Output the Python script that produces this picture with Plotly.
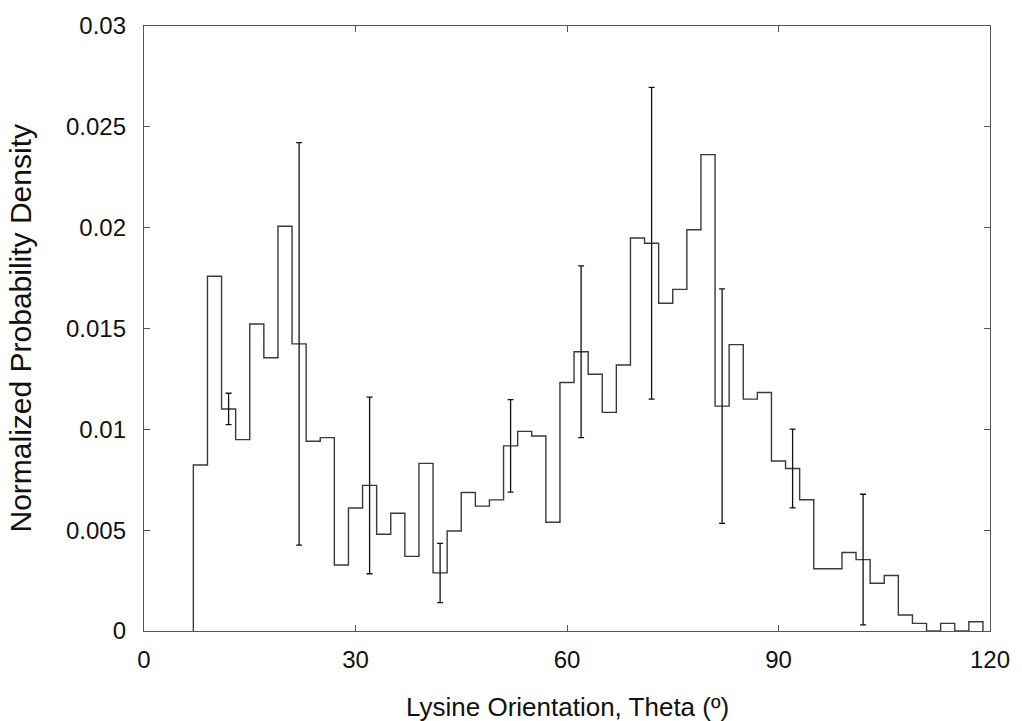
import plotly.graph_objects as go

# Bin centres (degrees) and normalized probability density per bin (bin width 2)
bin_centers = [8, 10, 12, 14, 16, 18, 20, 22, 24, 26, 28, 30, 32, 34, 36, 38, 40,
               42, 44, 46, 48, 50, 52, 54, 56, 58, 60, 62, 64, 66, 68, 70, 72, 74,
               76, 78, 80, 82, 84, 86, 88, 90, 92, 94, 96, 98, 100, 102, 104, 106,
               108, 110, 112, 114, 116, 118]
density = [0.00823, 0.01759, 0.01101, 0.00949, 0.01522, 0.01355, 0.02007, 0.01424,
           0.00941, 0.00959, 0.00327, 0.00610, 0.00722, 0.00480, 0.00584, 0.00370,
           0.00831, 0.00288, 0.00496, 0.00687, 0.00619, 0.00650, 0.00918, 0.00990,
           0.00967, 0.00539, 0.01232, 0.01385, 0.01273, 0.01084, 0.01319, 0.01949,
           0.01923, 0.01625, 0.01694, 0.01990, 0.02362, 0.01115, 0.01420, 0.01150,
           0.01183, 0.00843, 0.00806, 0.00651, 0.00309, 0.00309, 0.00389, 0.00354,
           0.00237, 0.00275, 0.00079, 0.00038, 0.0, 0.00038, 0.0, 0.00046]
bin_width = 2

# Error bars (symmetric half-widths) at selected bins
err_x = [12, 22, 32, 42, 52, 62, 72, 82, 92, 102]
err_half = [0.00078, 0.00998, 0.00438, 0.00147, 0.00229, 0.00426, 0.00773,
            0.00581, 0.00195, 0.00324]

x_ticks = [0, 30, 60, 90, 120]
y_ticks = [0, 0.005, 0.01, 0.015, 0.02, 0.025, 0.03]
y_tick_labels = ["0", "0.005", "0.01", "0.015", "0.02", "0.025", "0.03"]

# Build step outline from bins
left_edges = [c - bin_width / 2 for c in bin_centers]
right_end = bin_centers[-1] + bin_width / 2
step_x = [left_edges[0]] + left_edges + [right_end, right_end]
step_y = [0] + density + [density[-1], 0]

err_y = [density[bin_centers.index(x)] for x in err_x]

FONT = "Liberation Sans, Arial, sans-serif"

fig = go.Figure()
fig.add_trace(go.Scatter(
    x=step_x, y=step_y, mode="lines", line_shape="hv",
    line=dict(color="#3a3a3a", width=1.4), hoverinfo="skip", showlegend=False))
fig.add_trace(go.Scatter(
    x=err_x, y=err_y, mode="markers", marker=dict(size=1, color="rgba(0,0,0,0)"),
    error_y=dict(type="data", array=err_half, visible=True, color="#111",
                 thickness=1.3, width=3),
    showlegend=False, hoverinfo="skip"))

fig.update_layout(
    width=1022, height=721,
    margin=dict(l=144, r=28, t=20, b=90),
    paper_bgcolor="white", plot_bgcolor="white",
    font=dict(family=FONT, size=24, color="#111"),
    showlegend=False,
    xaxis=dict(range=[0, 120], tickvals=x_ticks, ticks="inside", ticklen=6,
               tickcolor="#555", showline=True, linecolor="#555", linewidth=1.3,
               mirror="ticks", showgrid=False, zeroline=False,
               ticklabelstandoff=7, tickfont=dict(family=FONT, size=24)),
    yaxis=dict(range=[0, 0.03], tickvals=y_ticks, ticktext=y_tick_labels,
               ticks="inside", ticklen=6, tickcolor="#555", showline=True,
               linecolor="#555", linewidth=1.3, mirror="ticks", showgrid=False,
               zeroline=False, ticklabelstandoff=12,
               tickfont=dict(family=FONT, size=24)),
    annotations=[
        dict(text="Lysine Orientation, Theta (º)", xref="paper", yref="paper",
             x=0.5, y=0, xanchor="center", yanchor="middle", yshift=-76,
             showarrow=False, font=dict(family=FONT, size=26, color="#111")),
        dict(text="Normalized Probability Density", xref="paper", yref="paper",
             x=0, y=0.5, xanchor="center", yanchor="middle", xshift=-124,
             textangle=-90, showarrow=False,
             font=dict(family=FONT, size=30, color="#111")),
    ],
)

fig.write_html("out.html")
